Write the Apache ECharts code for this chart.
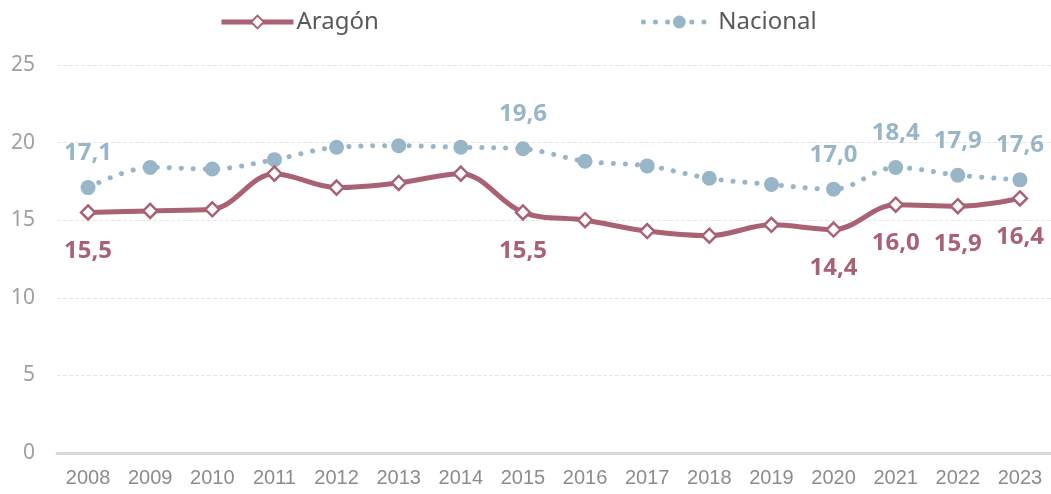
<!DOCTYPE html>
<html>
<head>
<meta charset="utf-8">
<script src="https://cdn.jsdelivr.net/npm/echarts@6/dist/echarts.min.js"></script>
<style>
  html, body { margin: 0; padding: 0; background: #ffffff; }
  #chart { width: 1051px; height: 494px; }
</style>
</head>
<body>
<div id="chart"></div>
<script>
// Years on the category axis
const years = ['2008','2009','2010','2011','2012','2013','2014','2015','2016','2017','2018','2019','2020','2021','2022','2023'];
// Series values
const aragon   = [15.5, 15.6, 15.7, 18.0, 17.1, 17.4, 18.0, 15.5, 15.0, 14.3, 14.0, 14.7, 14.4, 16.0, 15.9, 16.4];
const nacional = [17.1, 18.4, 18.3, 18.9, 19.7, 19.8, 19.7, 19.6, 18.8, 18.5, 17.7, 17.3, 17.0, 18.4, 17.9, 17.6];
// Years whose values are written on the chart
const labelledYears = ['2008', '2015', '2020', '2021', '2022', '2023'];

const colAragon = '#A96274';
const colNacional = '#98B6C8';
const fontMain = '"Noto Sans", "Liberation Sans", sans-serif';

function withLabels(values, position, color, distance) {
  return values.map((v, i) => ({
    value: v,
    label: {
      show: labelledYears.includes(years[i]),
      position: position,
      distance: distance,
      color: color,
      fontSize: 24,
      fontWeight: 'bold',
      fontFamily: fontMain,
      formatter: p => p.value.toFixed(1).replace('.', ',')
    }
  }));
}

const chart = echarts.init(document.getElementById('chart'));
chart.setOption({
  animation: false,
  legend: {
    top: 5,
    left: 214,
    itemGap: 262,
    itemWidth: 72,
    itemHeight: 16,
    lineStyle: { width: 5 },
    textStyle: { color: '#595959', fontSize: 24, fontFamily: fontMain, padding: [0, 0, 0, -2] },
    data: ['Aragón', 'Nacional']
  },
  grid: { left: 57, right: 0, top: 65, bottom: 41 },
  xAxis: {
    type: 'category',
    data: years,
    boundaryGap: true,
    axisTick: { show: false },
    axisLine: { lineStyle: { color: '#D9D9D9', width: 3 } },
    axisLabel: { color: '#8C8C8C', fontSize: 20, fontFamily: '"Liberation Sans Narrow", "Liberation Sans", sans-serif', margin: 15 }
  },
  yAxis: {
    type: 'value',
    min: 0,
    max: 25,
    interval: 5,
    axisLine: { show: false },
    axisTick: { show: false },
    splitLine: { lineStyle: { color: '#E6E6E6', type: 'dashed', width: 1 } },
    axisLabel: { color: '#A0A0A0', fontSize: 21, fontFamily: fontMain, margin: 22 }
  },
  series: [
    {
      name: 'Aragón',
      type: 'line',
      smooth: 0.35,
      data: withLabels(aragon, 'bottom', colAragon, 18),
      symbol: 'diamond',
      symbolSize: 14,
      lineStyle: { color: colAragon, width: 5 },
      itemStyle: { color: '#ffffff', borderColor: colAragon, borderWidth: 2.5 },
      z: 3
    },
    {
      name: 'Nacional',
      type: 'line',
      smooth: 0.35,
      data: withLabels(nacional, 'top', colNacional, 15),
      symbol: 'circle',
      symbolSize: 15,
      lineStyle: { color: colNacional, width: 5, type: [0.1, 12], cap: 'round' },
      itemStyle: { color: colNacional },
      z: 2
    }
  ]
});
</script>
</body>
</html>
